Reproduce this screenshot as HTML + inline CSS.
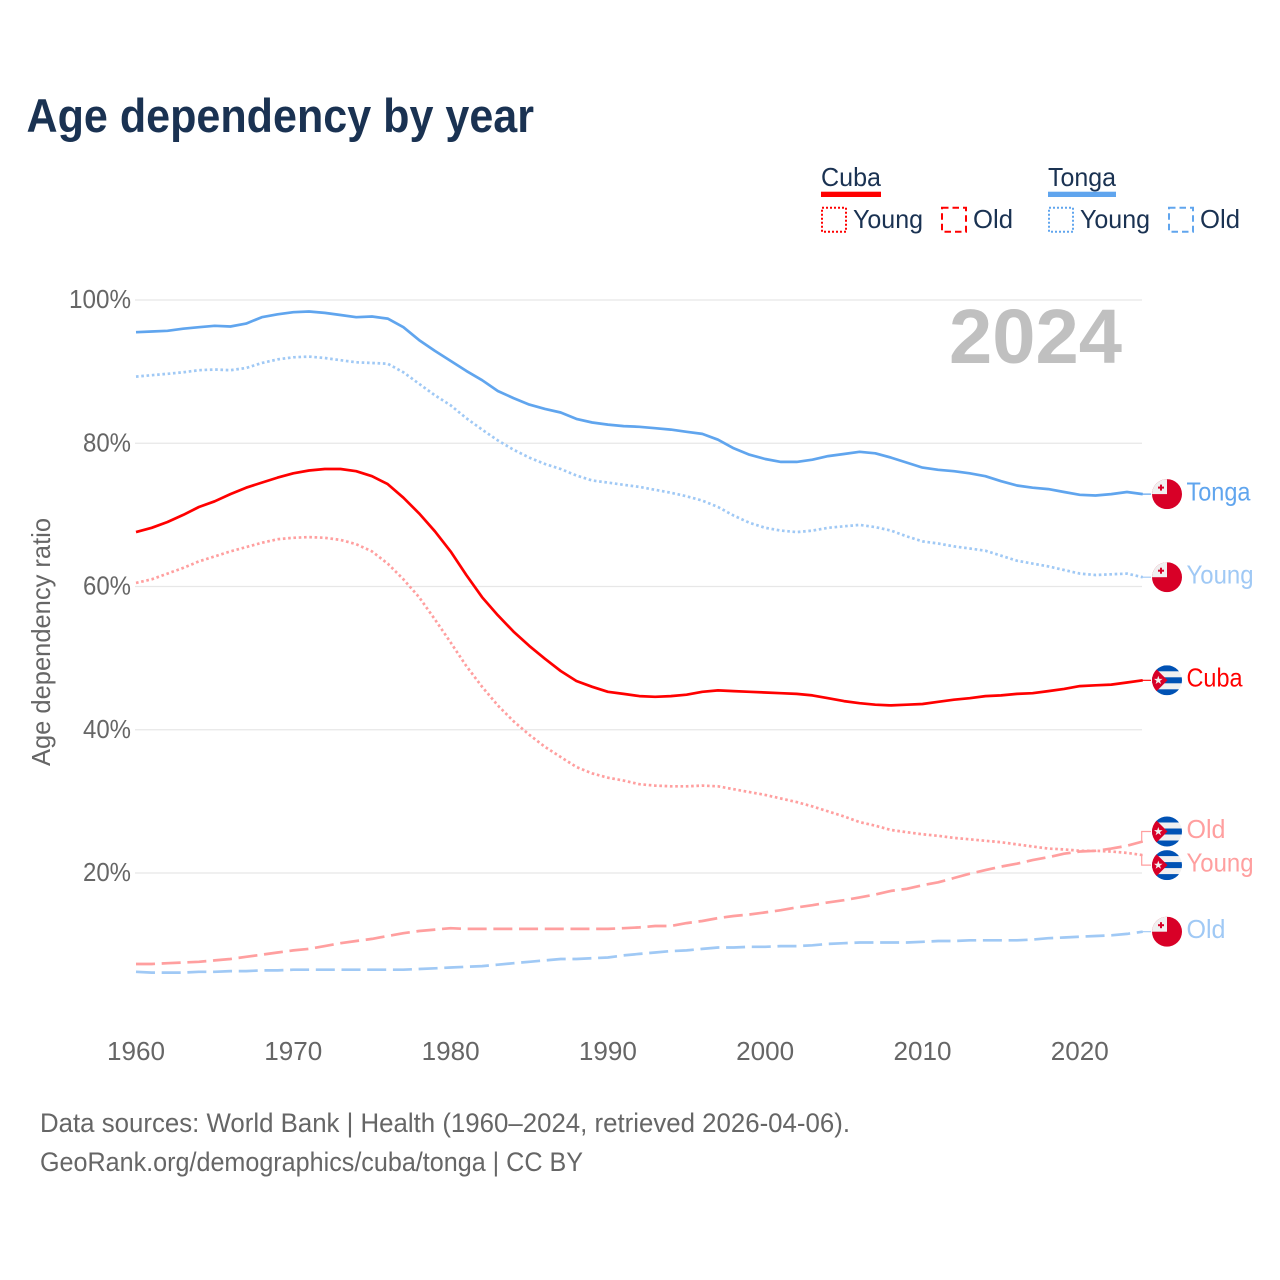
<!DOCTYPE html>
<html lang="en">
<head>
<meta charset="utf-8">
<title>Age dependency by year</title>
<style>
  html, body { margin: 0; padding: 0; background: #fff; }
  svg { display: block; font-family: "Liberation Sans", sans-serif; }
</style>
</head>
<body>
<svg id="chart" xmlns="http://www.w3.org/2000/svg" width="1280" height="1280" viewBox="0 0 1280 1280">
  <defs>
    <clipPath id="flag-clip"><circle cx="0" cy="0" r="15"/></clipPath>
    <symbol id="flag-tonga" overflow="visible">
      <g clip-path="url(#flag-clip)">
        <rect x="-15" y="-15" width="30" height="30" fill="#d80027"/>
        <rect x="-15" y="-15" width="15" height="15" fill="#f0f0f0"/>
        <rect x="-9" y="-7.5" width="6" height="2" fill="#d80027"/>
        <rect x="-7" y="-9.5" width="2" height="6" fill="#d80027"/>
      </g>
    </symbol>
    <symbol id="flag-cuba" overflow="visible">
      <g clip-path="url(#flag-clip)">
        <rect x="-15" y="-15" width="30" height="30" fill="#f0f0f0"/>
        <rect x="-15" y="-15" width="30" height="6" fill="#0052b4"/>
        <rect x="-15" y="-3" width="30" height="6" fill="#0052b4"/>
        <rect x="-15" y="9" width="30" height="6" fill="#0052b4"/>
        <polygon points="0.5,0 -15.5,-16 -15.5,16" fill="#d80027"/>
        <polygon points="-8.7,-4.5 -7.6,-1.4 -4.4,-1.4 -7,0.6 -6,3.7 -8.7,1.8 -11.4,3.7 -10.4,0.6 -13,-1.4 -9.8,-1.4" fill="#f0f0f0"/>
      </g>
    </symbol>
  </defs>

  <text x="26.5" y="132" font-size="47" font-weight="700" fill="#1a3252" textLength="507.5" lengthAdjust="spacingAndGlyphs">Age dependency by year</text>

  <g font-size="26" fill="#1a3252">
    <text x="821" y="186" textLength="60" lengthAdjust="spacingAndGlyphs">Cuba</text>
    <rect x="821" y="191.7" width="60" height="5.3" fill="#ff0000"/>
    <rect x="822" y="207.7" width="24" height="24" fill="none" stroke="#ff0000" stroke-width="2" stroke-dasharray="2 2"/>
    <text x="853" y="228" textLength="70" lengthAdjust="spacingAndGlyphs">Young</text>
    <rect x="942" y="207.7" width="24" height="24" fill="none" stroke="#ff0000" stroke-width="2" stroke-dasharray="6.5 4"/>
    <text x="973" y="228" textLength="40" lengthAdjust="spacingAndGlyphs">Old</text>
    <text x="1048" y="186" textLength="68" lengthAdjust="spacingAndGlyphs">Tonga</text>
    <rect x="1048" y="191.7" width="68" height="5.3" fill="#60a5ee"/>
    <rect x="1049" y="207.7" width="24" height="24" fill="none" stroke="#60a5ee" stroke-width="2" stroke-dasharray="2 2"/>
    <text x="1080" y="228" textLength="70" lengthAdjust="spacingAndGlyphs">Young</text>
    <rect x="1169" y="207.7" width="24" height="24" fill="none" stroke="#60a5ee" stroke-width="2" stroke-dasharray="6.5 4"/>
    <text x="1200" y="228" textLength="40" lengthAdjust="spacingAndGlyphs">Old</text>
  </g>

  <text transform="translate(50,642) rotate(-90)" text-anchor="middle" font-size="26" fill="#666666" textLength="248" lengthAdjust="spacingAndGlyphs">Age dependency ratio</text>

  <g id="grid"></g>
  <g id="y-ticks"></g>
  <g id="x-ticks"></g>

  <text x="949" y="363" font-size="77" font-weight="700" fill="#c0c0c0" textLength="173" lengthAdjust="spacingAndGlyphs">2024</text>

  <g id="series"></g>
  <g id="end-labels"></g>

  <text x="40" y="1132" font-size="26.5" fill="#666666" textLength="810" lengthAdjust="spacingAndGlyphs">Data sources: World Bank | Health (1960–2024, retrieved 2026-04-06).</text>
  <text x="40" y="1171" font-size="26.5" fill="#666666" textLength="543" lengthAdjust="spacingAndGlyphs">GeoRank.org/demographics/cuba/tonga | CC BY</text>
</svg>

<script>
const startYear = 1960;
const yTickValues = [20, 40, 60, 80, 100];
const xTickYears = [1960, 1970, 1980, 1990, 2000, 2010, 2020];

const tongaTotal = [95.5,95.6,95.7,96.0,96.2,96.4,96.3,96.7,97.6,98.0,98.3,98.4,98.2,97.9,97.6,97.7,97.4,96.2,94.4,92.9,91.5,
  90.1,88.8,87.3,86.3,85.4,84.8,84.3,83.4,82.9,82.6,
  82.4,82.3,82.1,81.9,81.6,81.3,80.5,79.3,78.4,77.8,
  77.4,77.4,77.7,78.2,78.5,78.8,78.6,78.0,77.3,76.6,
  76.3,76.1,75.8,75.4,74.7,74.1,73.8,73.6,73.2,72.8,
  72.7,72.9,73.2,72.9];
const tongaYoung = [89.3,89.5,89.7,89.9,90.2,90.3,90.2,90.5,91.2,91.7,92.0,92.1,91.9,91.6,91.3,91.2,91.1,89.9,88.3,86.7,85.3,
  83.5,81.9,80.4,79.1,78.0,77.1,76.4,75.5,74.8,74.5,
  74.2,73.9,73.5,73.1,72.6,72.0,71.1,69.9,68.9,68.2,
  67.8,67.6,67.8,68.2,68.4,68.6,68.3,67.8,67.0,66.3,
  66.0,65.6,65.3,65.0,64.3,63.6,63.2,62.8,62.3,61.8,
  61.6,61.7,61.8,61.3];
const tongaOld = [6.2,6.1,6.1,6.1,6.2,6.2,6.3,6.3,6.4,6.4,6.5,6.5,6.5,6.5,6.5,6.5,6.5,6.5,6.6,6.7,6.8,
  6.9,7.0,7.2,7.4,7.6,7.8,8.0,8.0,8.1,8.2,
  8.5,8.7,8.9,9.1,9.2,9.4,9.6,9.6,9.7,9.7,
  9.8,9.8,9.9,10.1,10.2,10.3,10.3,10.3,10.3,10.4,
  10.5,10.5,10.6,10.6,10.6,10.6,10.7,10.9,11.0,11.1,
  11.2,11.3,11.5,11.8];
const cubaTotal = [67.6,68.2,69.0,70.0,71.1,71.9,72.9,73.8,74.5,75.2,75.8,76.2,76.4,76.4,76.1,75.4,74.3,72.4,70.2,67.7,64.9,
  61.6,58.5,56.0,53.7,51.7,49.9,48.2,46.8,46.0,45.3,
  45.0,44.7,44.6,44.7,44.9,45.3,45.5,45.4,45.3,45.2,
  45.1,45.0,44.8,44.4,44.0,43.7,43.5,43.4,43.5,43.6,
  43.9,44.2,44.4,44.7,44.8,45.0,45.1,45.4,45.7,46.1,
  46.2,46.3,46.6,46.9];
const cubaYoung = [60.5,61.0,61.8,62.6,63.5,64.2,64.9,65.5,66.1,66.6,66.8,66.9,66.8,66.5,65.9,64.9,63.2,61.0,58.5,55.4,52.2,
  48.9,46.0,43.4,41.2,39.3,37.6,36.2,34.8,33.9,33.3,
  32.9,32.4,32.2,32.1,32.1,32.2,32.1,31.7,31.3,30.9,
  30.4,29.9,29.3,28.6,27.9,27.1,26.6,26.0,25.7,25.4,
  25.2,24.9,24.7,24.5,24.3,24.0,23.7,23.4,23.3,23.1,
  23.1,23.0,22.8,22.5];
const cubaOld = [7.3,7.3,7.4,7.5,7.6,7.8,8.0,8.3,8.6,8.9,9.2,9.4,9.8,10.2,10.5,10.8,11.2,11.6,11.9,12.1,12.3,
  12.2,12.2,12.2,12.2,12.2,12.2,12.2,12.2,12.2,12.2,
  12.3,12.4,12.6,12.6,13.0,13.3,13.7,14.0,14.2,14.5,
  14.8,15.2,15.5,15.9,16.2,16.6,17.0,17.5,17.8,18.3,
  18.7,19.3,19.9,20.4,20.9,21.3,21.8,22.2,22.7,23.0,
  23.1,23.4,23.8,24.4];

const NS = 'http://www.w3.org/2000/svg';
const xScale = year => 136 + (year - 1960) * 15.73;
const yScale = value => 1016.25 - value * 7.1625;
const gridX2 = 1142;
const flagX = 1167;

function svgEl(tag, parentId) {
  const el = document.createElementNS(NS, tag);
  document.getElementById(parentId).appendChild(el);
  return el;
}

yTickValues.forEach(v => {
  const line = svgEl('line', 'grid');
  
  
  line.setAttribute('x1', 135);
  line.setAttribute('x2', gridX2);
  line.setAttribute('y1', yScale(v));
  line.setAttribute('y2', yScale(v));
  line.setAttribute('stroke', '#e7e7e7');
  line.setAttribute('stroke-width', 1.2);

  const label = svgEl('text', 'y-ticks');
  
  
  const str = v + '%';
  label.textContent = str;
  label.setAttribute('x', 131 - (14 * (str.length - 1) + 20));
  label.setAttribute('y', yScale(v) + 8.2);
  label.setAttribute('font-size', 26);
  label.setAttribute('fill', '#666666');
  label.setAttribute('textLength', 14 * (str.length - 1) + 20);
  label.setAttribute('lengthAdjust', 'spacingAndGlyphs');
});

xTickYears.forEach(yr => {
  const label = svgEl('text', 'x-ticks');
  
  
  label.textContent = String(yr);
  label.setAttribute('x', xScale(yr) - 29);
  label.setAttribute('y', 1060.2);
  label.setAttribute('font-size', 26);
  label.setAttribute('fill', '#666666');
  label.setAttribute('textLength', 58);
  label.setAttribute('lengthAdjust', 'spacingAndGlyphs');
});

function drawSeries(name, values, color, dash, flag, labelText, nudge, labelWidth) {
  const pts = values.map((v, i) => xScale(startYear + i).toFixed(1) + ',' + yScale(v).toFixed(1));
  const line = svgEl('polyline', 'series');
  
  
  line.setAttribute('points', pts.join(' '));
  line.setAttribute('fill', 'none');
  line.setAttribute('stroke', color);
  line.setAttribute('stroke-width', 2.7);
  line.setAttribute('stroke-linejoin', 'round');
  if (dash) line.setAttribute('stroke-dasharray', dash);

  const endX = xScale(startYear + values.length - 1);
  const endY = yScale(values[values.length - 1]);
  const flagY = endY + nudge;

  const connector = svgEl('path', 'end-labels');
  
  
  connector.setAttribute('d', 'M' + endX.toFixed(1) + ' ' + endY.toFixed(1) + ' L' + (endX - 1).toFixed(1) + ' ' + endY.toFixed(1) + ' L' + (endX - 1).toFixed(1) + ' ' + flagY.toFixed(1) + ' L' + (flagX - 16) + ' ' + flagY.toFixed(1));
  connector.setAttribute('fill', 'none');
  connector.setAttribute('stroke', color);
  connector.setAttribute('stroke-width', 1.2);

  const flagUse = svgEl('use', 'end-labels');
  
  
  flagUse.setAttribute('href', '#' + flag);
  flagUse.setAttribute('transform', 'translate(' + flagX + ',' + flagY.toFixed(1) + ')');

  const label = svgEl('text', 'end-labels');
  
  
  label.textContent = labelText;
  label.setAttribute('x', 1186.5);
  label.setAttribute('y', flagY + 6.3);
  label.setAttribute('font-size', 26);
  label.setAttribute('fill', color);
  label.setAttribute('textLength', labelWidth);
  label.setAttribute('lengthAdjust', 'spacingAndGlyphs');
}

const DOT = '2.6 2.7';
const DASH = '19 6.7';
drawSeries('tonga-total', tongaTotal, '#60a5ee', null, 'flag-tonga', 'Tonga', 0, 64);
drawSeries('tonga-young', tongaYoung, '#a0c9f5', DOT, 'flag-tonga', 'Young', 0, 67);
drawSeries('tonga-old', tongaOld, '#a0c9f5', DASH, 'flag-tonga', 'Old', 0, 39);
drawSeries('cuba-total', cubaTotal, '#ff0000', null, 'flag-cuba', 'Cuba', 0, 56);
drawSeries('cuba-young', cubaYoung, '#ff9f9f', DOT, 'flag-cuba', 'Young', 10, 67);
drawSeries('cuba-old', cubaOld, '#ff9f9f', DASH, 'flag-cuba', 'Old', -10, 39);
</script>
</body>
</html>
